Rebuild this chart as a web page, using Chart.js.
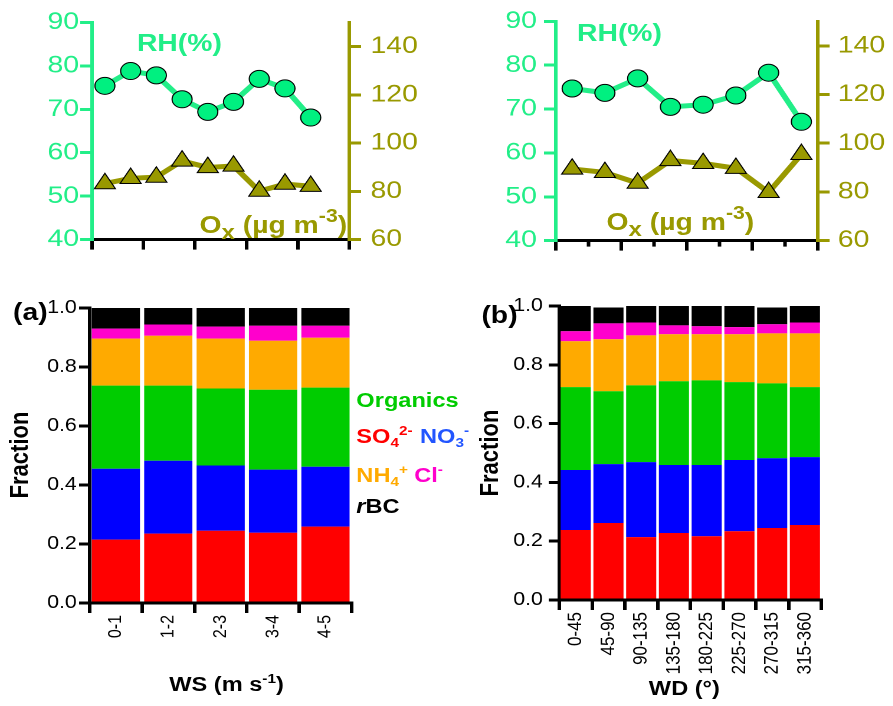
<!DOCTYPE html>
<html>
<head>
<meta charset="utf-8">
<script src="https://cdn.jsdelivr.net/npm/chart.js@4.4.0/dist/chart.umd.min.js"></script>
<style>
  body { margin: 0; background: #fff; }
  #page { position: relative; width: 893px; height: 706px; overflow: hidden; }
  /* the figure is drawn 757px wide and stretched, like the original */
  #stage { position: absolute; left: 0; top: 0; width: 757px; height: 706px; transform: scaleX(1.18); transform-origin: 0 0;
           font-family: 'Liberation Sans', Arial, sans-serif; }
  .box { position: absolute; }
  .t { position: absolute; font-weight: bold; line-height: 1; white-space: nowrap; }
  .sub { position: relative; top: 0.3em; font-size: 0.65em; }
  .sup { position: relative; top: -0.6em; font-size: 0.65em; }
  .rot { transform: translate(-50%, -50%) rotate(-90deg); }
</style>
</head>
<body>
<div id="page">
<div id="stage">
  <div class="box" style="left:0;top:0"><canvas id="topWS"></canvas></div>
  <div class="box" style="left:373px;top:0"><canvas id="topWD"></canvas></div>
  <div class="box" style="left:0;top:290px"><canvas id="barWS"></canvas></div>
  <div class="box" style="left:373px;top:290px"><canvas id="barWD"></canvas></div>

  <!-- top panel labels -->
  <div class="t" style="left:116px;top:31px;font-size:24px;color:#22EE88">RH(%)</div>
  <div class="t" style="left:489px;top:21px;font-size:24px;color:#22EE88">RH(%)</div>
  <div class="t" style="left:169px;top:213px;font-size:24px;color:#999900">O<span class="sub" style="font-size:0.85em">x</span> (µg m<span class="sup" style="font-size:0.75em">-3</span>)</div>
  <div class="t" style="left:514px;top:210px;font-size:24px;color:#999900">O<span class="sub" style="font-size:0.85em">x</span> (µg m<span class="sup" style="font-size:0.75em">-3</span>)</div>

  <!-- panel tags -->
  <div class="t" style="left:11px;top:300px;font-size:24px;color:#000">(a)</div>
  <div class="t" style="left:408px;top:303px;font-size:24px;color:#000">(b)</div>

  <!-- legend -->
  <div class="t" style="left:302px;top:390px;font-size:20px;color:#00CC00">Organics</div>
  <div class="t" style="left:302px;top:426px;font-size:20px;color:#FF0000">SO<span class="sub">4</span><span class="sup">2-</span></div>
  <div class="t" style="left:356px;top:426px;font-size:20px;color:#2255FF">NO<span class="sub">3</span><span class="sup">-</span></div>
  <div class="t" style="left:302px;top:465px;font-size:20px;color:#FFAA00">NH<span class="sub">4</span><span class="sup">+</span></div>
  <div class="t" style="left:351px;top:465px;font-size:20px;color:#FF00CC">Cl<span class="sup">-</span></div>
  <div class="t" style="left:302px;top:496px;font-size:20px;color:#000"><i>r</i>BC</div>

  <!-- axis titles -->
  <div class="t rot" style="left:17px;top:455px;font-size:22px;color:#000">Fraction</div>
  <div class="t rot" style="left:415px;top:453px;font-size:22px;color:#000">Fraction</div>
  <div class="t" style="left:42px;top:674px;width:300px;text-align:center;font-size:20px;color:#000">WS (m s<span class="sup">-1</span>)</div>
  <div class="t" style="left:430px;top:678px;width:300px;text-align:center;font-size:20px;color:#000">WD (°)</div>
</div>
</div>

<script>
// TOP PANELS: RH and Ox
const rhWS = [75.4, 78.8, 77.8, 72.3, 69.4, 71.7, 77.0, 74.8, 68.1];
const oxWS = [83.2, 85.4, 85.9, 92.6, 89.9, 90.5, 80.1, 83.0, 82.1];
const rhWD = [74.7, 73.7, 77.0, 70.5, 71.0, 73.1, 78.3, 67.1];
const oxWD = [89.4, 88.0, 83.6, 92.9, 91.7, 89.7, 79.8, 95.4];

// BOTTOM PANELS: mass fractions (bottom to top of each stack)
const wsLabels = ['0-1', '1-2', '2-3', '3-4', '4-5'];
const wsSO4 = [0.215, 0.235, 0.245, 0.238, 0.259];
const wsNO3 = [0.240, 0.247, 0.221, 0.214, 0.203];
const wsOrg = [0.282, 0.255, 0.261, 0.271, 0.268];
const wsNH4 = [0.159, 0.169, 0.169, 0.166, 0.169];
const wsCl  = [0.034, 0.038, 0.041, 0.051, 0.041];
const wsBC  = [0.070, 0.056, 0.063, 0.060, 0.060];

const wdLabels = ['0-45', '45-90', '90-135', '135-180', '180-225', '225-270', '270-315', '315-360'];
const wdSO4 = [0.238, 0.262, 0.214, 0.228, 0.217, 0.234, 0.245, 0.255];
const wdNO3 = [0.204, 0.200, 0.255, 0.231, 0.242, 0.242, 0.237, 0.231];
const wdOrg = [0.282, 0.248, 0.261, 0.285, 0.288, 0.265, 0.255, 0.238];
const wdNH4 = [0.156, 0.177, 0.170, 0.160, 0.157, 0.163, 0.170, 0.183];
const wdCl  = [0.034, 0.054, 0.044, 0.030, 0.027, 0.024, 0.031, 0.037];
const wdBC  = [0.086, 0.054, 0.056, 0.066, 0.069, 0.072, 0.057, 0.056];

const GREEN = '#22EE88';
const GREEN_FILL = '#00F080';
const OLIVE = '#999900';

Chart.defaults.font.family = "'Liberation Sans', Arial, sans-serif";
Chart.defaults.animation = false;

// short ticks between the major ones on the WD line panel
const minorTicks = {
  id: 'minorTicks',
  afterDraw(chart) {
    const xs = chart.scales.x, ctx = chart.ctx;
    ctx.save();
    ctx.strokeStyle = '#000';
    ctx.lineWidth = 3;
    for (let v = 1; v < xs.max; v += 2) {
      const px = xs.getPixelForValue(v);
      ctx.beginPath();
      ctx.moveTo(px, xs.top);
      ctx.lineTo(px, xs.top + 6);
      ctx.stroke();
    }
    ctx.restore();
  }
};

function sized(id, w, h) {
  const c = document.getElementById(id);
  c.width = w; c.height = h;
  return c;
}

function lineChart(id, w, rh, ox, bins, o, plugins) {
  const pts = arr => arr.map((v, i) => ({ x: i + 0.5, y: v }));
  return new Chart(sized(id, w, 262), {
    type: 'line',
    data: {
      datasets: [
        { label: 'RH', data: pts(rh), yAxisID: 'y', borderColor: GREEN, borderWidth: 5,
          pointRadius: 8.5, pointBackgroundColor: GREEN_FILL, pointBorderColor: '#000', pointBorderWidth: 1 },
        { label: 'Ox', data: pts(ox), yAxisID: 'y2', borderColor: OLIVE, borderWidth: 5,
          pointStyle: 'triangle', pointRadius: 10.3, pointBackgroundColor: OLIVE, pointBorderColor: '#000', pointBorderWidth: 1 }
      ]
    },
    plugins: plugins || [],
    options: {
      responsive: false, devicePixelRatio: 2,
      layout: { padding: { top: 18, left: o.padLeft, right: 0, bottom: 0 } },
      plugins: { legend: { display: false }, tooltip: { enabled: false } },
      scales: {
        x: { type: 'linear', min: 0, max: bins, ticks: { display: false, stepSize: 2 },
             grid: { drawOnChartArea: false, tickLength: 10, color: '#000', lineWidth: 3 },
             border: { color: '#000', width: 3 }, afterFit: s => { s.height = 16; } },
        y: { position: 'left', min: 40, max: 90,
             ticks: { stepSize: 10, color: GREEN, font: { size: 24 }, padding: o.leftPad },
             grid: { drawOnChartArea: false, tickLength: 10, color: GREEN, lineWidth: 3 },
             border: { color: GREEN, width: 3 }, afterFit: s => { s.width = 78; } },
        y2: { position: 'right', min: 60, max: 150,
             ticks: { stepSize: 20, includeBounds: false, color: OLIVE, font: { size: 24 }, padding: o.rightPad },
             grid: { drawOnChartArea: false, tickLength: 10, color: OLIVE, lineWidth: 3 },
             border: { color: OLIVE, width: 3 }, afterFit: s => { s.width = o.rightW; } }
      }
    }
  });
}

function barChart(id, w, labels, series, o) {
  const colors = ['#FF0000', '#0000FF', '#00CC00', '#FFAA00', '#FF00CC', '#000000'];
  const names = ['SO4', 'NO3', 'Organics', 'NH4', 'Cl', 'rBC'];
  return new Chart(sized(id, w, 416), {
    type: 'bar',
    data: {
      labels: labels,
      datasets: series.map((d, i) => ({
        label: names[i], data: d, backgroundColor: colors[i], borderWidth: 0,
        categoryPercentage: 1.0, barPercentage: 0.92
      }))
    },
    options: {
      responsive: false, devicePixelRatio: 2,
      layout: { padding: { top: o.top, left: 0, right: o.right, bottom: 0 } },
      plugins: { legend: { display: false }, tooltip: { enabled: false } },
      scales: {
        x: { stacked: true,
             ticks: { color: '#000', font: { size: o.xFont }, minRotation: 90, maxRotation: 90, autoSkip: false, padding: 2 },
             grid: { offset: true, drawOnChartArea: false, tickLength: 10, color: '#000', lineWidth: 3 },
             border: { color: '#000', width: 3 }, afterFit: s => { s.height = o.xH; } },
        y: { stacked: true, min: 0, max: 1,
             ticks: { stepSize: 0.2, color: '#000', font: { size: 18 }, padding: o.yPad, callback: v => v.toFixed(1) },
             grid: { drawOnChartArea: false, tickLength: 9, color: '#000', lineWidth: 3 },
             border: { color: '#000', width: 3 }, afterFit: s => { s.width = o.yW; } }
      }
    }
  });
}

lineChart('topWS', 373, rhWS, oxWS, 10, { padLeft: 0, leftPad: 1, rightW: 77, rightPad: 8 });
lineChart('topWD', 384, rhWD, oxWD, 8, { padLeft: 20, leftPad: 6, rightW: 64, rightPad: 7 }, [minorTicks]);

barChart('barWS', 373, wsLabels, [wsSO4, wsNO3, wsOrg, wsNH4, wsCl, wsBC],
  { top: 18, right: 75, xH: 103, yW: 76, yPad: 2, xFont: 16 });
barChart('barWD', 384, wdLabels, [wdSO4, wdNO3, wdOrg, wdNH4, wdCl, wdBC],
  { top: 16, right: 61, xH: 106, yW: 101, yPad: 5, xFont: 17 });
</script>
</body>
</html>
